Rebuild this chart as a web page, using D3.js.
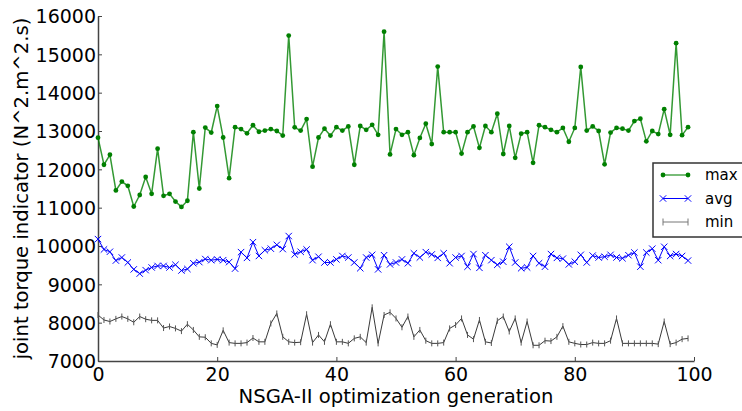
<!DOCTYPE html>
<html>
<head>
<meta charset="utf-8">
<script src="https://cdn.jsdelivr.net/npm/d3@7"></script>
<style>
  body { margin: 0; background: #fff; }
  svg text { font-family: "DejaVu Sans", sans-serif; fill: #000; }
</style>
</head>
<body>
<div id="chart"></div>
<script>
  "use strict";

  var generations = d3.range(0, 100);
  var xTicks = [0, 20, 40, 60, 80, 100];
  var yTicks = [7000, 8000, 9000, 10000, 11000, 12000, 13000, 14000, 15000, 16000];

  var maxValues = [
    12825, 12120, 12380, 11450, 11680, 11570, 11030, 11330, 11800, 11360,
    12540, 11310, 11360, 11160, 11020, 11180, 12970, 11500, 13090, 12960,
    13650, 12830, 11770, 13100, 13050, 12940, 13150, 12980, 13010, 13050,
    13000, 12880, 15490, 13095, 13010, 13310, 12070, 12830, 13060, 12880,
    13100, 13010, 13120, 12120, 13130, 13030, 13160, 12900, 15590, 12390,
    13050, 12900, 12970, 12370, 12820, 13190, 12660, 14680, 12970, 12970,
    12970, 12410, 12970, 13120, 12560, 13130, 12970, 13450, 12400, 13130,
    12300, 12930, 12970, 12170, 13150, 13100, 13030, 12970, 13080, 12720,
    13080, 14670, 13010, 13120, 13000, 12130, 12960, 13080, 13060, 13010,
    13260, 13320, 12730, 13000, 12920, 13570, 12900, 15290, 12890, 13100
  ];

  var avgValues = [
    10180, 9910, 9850, 9620, 9700, 9570, 9390, 9280, 9370, 9440,
    9480, 9480, 9440, 9510, 9360, 9400, 9550, 9580, 9660, 9630,
    9650, 9630, 9580, 9410, 9840, 9690, 10100, 9740, 9890, 9930,
    10030, 9920, 10260, 9780, 9850, 9910, 9630, 9720, 9570, 9570,
    9650, 9740, 9700, 9570, 9420, 9700, 9770, 9390, 9760, 9520,
    9570, 9650, 9550, 9810, 9700, 9840, 9780, 9690, 9810, 9550,
    9700, 9740, 9460, 9790, 9430, 9760, 9630, 9510, 9590, 9980,
    9570, 9420, 9440, 9740, 9550, 9460, 9790, 9690, 9670, 9520,
    9590, 9770, 9570, 9750, 9700, 9720, 9770, 9700, 9680, 9760,
    9830, 9460, 9830, 9930, 9630, 9980, 9740, 9790, 9740, 9620
  ];

  var minValues = [
    8200, 8070, 8030, 8100, 8160, 8100, 8010, 8160, 8090, 8060,
    8060, 7860, 7900, 7850, 7780, 7960, 7810, 7630, 7620, 7460,
    7420, 7800, 7480, 7460, 7460, 7480, 7600, 7500, 7500, 7980,
    8240, 7630, 7500, 7480, 7490, 8220, 7480, 7680, 7500, 7960,
    7500, 7500, 7460, 7590, 7630, 7480, 8400, 7460, 8200, 8270,
    8110, 7880, 8160, 7630, 7810, 7530, 7460, 7460, 7480, 7850,
    7940, 8110, 7680, 7570, 8070, 7500, 7470, 8050, 8160, 7770,
    8110, 7480, 8030, 7410, 7410, 7530, 7520, 7630, 7910, 7500,
    7460, 7430, 7430, 7480, 7460, 7460, 7530, 8110, 7460, 7460,
    7460, 7460, 7460, 7460, 7440, 8030, 7440, 7480, 7570, 7590
  ];

  var seriesNames = ["max", "avg", "min"];

  var svgWidth = 742,
    svgHeight = 411,
    plotLeft = 98,
    plotRight = 694,
    plotTop = 16,
    plotBottom = 361;

  var x = d3.scaleLinear().domain([0, 100]).range([plotLeft, plotRight]);
  var y = d3.scaleLinear().domain([7000, 16000]).range([plotBottom, plotTop]);

  var svg = d3.select("#chart")
    .append("svg")
    .attr("width", svgWidth)
    .attr("height", svgHeight);

  // axes
  var xAxis = d3.axisBottom(x)
    .tickValues(xTicks)
    .tickSizeInner(-4)
    .tickSizeOuter(0)
    .tickPadding(7)
    .tickFormat(d3.format("d"));

  var yAxis = d3.axisLeft(y)
    .tickValues(yTicks)
    .tickSizeInner(-4)
    .tickSizeOuter(0)
    .tickPadding(2)
    .tickFormat(d3.format("d"));

  var gx = svg.append("g")
    .attr("transform", "translate(0," + plotBottom + ")")
    .call(xAxis);
  var gy = svg.append("g")
    .attr("transform", "translate(" + plotLeft + ",0)")
    .call(yAxis);

  [gx, gy].forEach(function(g) {
    g.select(".domain").attr("stroke", "#444").attr("stroke-width", 1.5);
    g.selectAll(".tick line").attr("stroke", "#444").attr("stroke-width", 1);
    g.selectAll(".tick text")
      .style("font-family", "DejaVu Sans")
      .style("font-size", "19px")
      .attr("fill", "#000");
  });
  gy.selectAll(".tick text").attr("dy", "0.36em");

  // axis titles
  svg.append("text")
    .attr("x", (plotLeft + plotRight) / 2)
    .attr("y", 403)
    .attr("text-anchor", "middle")
    .style("font-size", "19.6px")
    .text("NSGA-II optimization generation");

  svg.append("text")
    .attr("transform", "translate(28," + (plotTop + plotBottom) / 2 + ") rotate(-90)")
    .attr("text-anchor", "middle")
    .style("font-size", "19.6px")
    .text("joint torque indicator (N^2.m^2.s)");

  var plot = svg.append("g");

  function lineOf(values) {
    return d3.line()
      .x(function(d, i) { return x(generations[i]); })
      .y(function(d) { return y(d); })(values);
  }

  // min series
  plot.append("path")
    .attr("d", lineOf(minValues))
    .attr("fill", "none")
    .attr("stroke", "#3a3a3a")
    .attr("stroke-width", 1);
  plot.selectAll(".minMark")
    .data(minValues)
    .enter()
    .append("line")
    .attr("x1", function(d, i) { return x(generations[i]); })
    .attr("x2", function(d, i) { return x(generations[i]); })
    .attr("y1", function(d) { return y(d) - 3; })
    .attr("y2", function(d) { return y(d) + 3; })
    .attr("stroke", "#555")
    .attr("stroke-width", 1);

  // avg series
  plot.append("path")
    .attr("d", lineOf(avgValues))
    .attr("fill", "none")
    .attr("stroke", "#0000ff")
    .attr("stroke-width", 1);
  plot.selectAll(".avgMark")
    .data(avgValues)
    .enter()
    .append("path")
    .attr("d", function(d, i) {
      var cx = x(generations[i]), cy = y(d), s = 3.2;
      return "M" + (cx - s) + "," + (cy - s) + "L" + (cx + s) + "," + (cy + s) +
        "M" + (cx - s) + "," + (cy + s) + "L" + (cx + s) + "," + (cy - s);
    })
    .attr("stroke", "#0000ff")
    .attr("stroke-width", 1);

  // max series
  plot.append("path")
    .attr("d", lineOf(maxValues))
    .attr("fill", "none")
    .attr("stroke", "#008000")
    .attr("stroke-opacity", 0.8)
    .attr("stroke-width", 1.5);
  plot.selectAll(".maxMark")
    .data(maxValues)
    .enter()
    .append("circle")
    .attr("cx", function(d, i) { return x(generations[i]); })
    .attr("cy", function(d) { return y(d); })
    .attr("r", 2.4)
    .attr("fill", "#008000");

  // legend
  var legend = svg.append("g").attr("transform", "translate(653,163)");
  legend.append("rect")
    .attr("width", 110)
    .attr("height", 74)
    .attr("fill", "#fff")
    .attr("stroke", "#333")
    .attr("stroke-width", 1.5);

  var rows = legend.selectAll(".row")
    .data(seriesNames)
    .enter()
    .append("g")
    .attr("transform", function(d, i) { return "translate(0," + (12 + i * 23.5) + ")"; });

  rows.append("line")
    .attr("x1", 10).attr("x2", 35)
    .attr("y1", 0).attr("y2", 0)
    .attr("stroke", function(d) { return d === "max" ? "#008000" : d === "avg" ? "#0000ff" : "#777"; })
    .attr("stroke-opacity", function(d) { return d === "max" ? 0.7 : 1; })
    .attr("stroke-width", function(d) { return d === "max" ? 1.5 : 1; });

  rows.each(function(d) {
    var g = d3.select(this);
    [10, 35].forEach(function(px) {
      if (d === "max") {
        g.append("circle").attr("cx", px).attr("cy", 0).attr("r", 2.4).attr("fill", "#008000");
      } else if (d === "avg") {
        g.append("path")
          .attr("d", "M" + (px - 3.2) + ",-3.2L" + (px + 3.2) + ",3.2M" + (px - 3.2) + ",3.2L" + (px + 3.2) + ",-3.2")
          .attr("stroke", "#0000ff").attr("stroke-width", 1);
      } else {
        g.append("line").attr("x1", px).attr("x2", px).attr("y1", -3.5).attr("y2", 3.5)
          .attr("stroke", "#777").attr("stroke-width", 1);
      }
    });
  });

  rows.append("text")
    .attr("x", 52)
    .attr("y", 0)
    .attr("dy", "0.36em")
    .style("font-size", "15px")
    .text(function(d) { return d; });
</script>
</body>
</html>
